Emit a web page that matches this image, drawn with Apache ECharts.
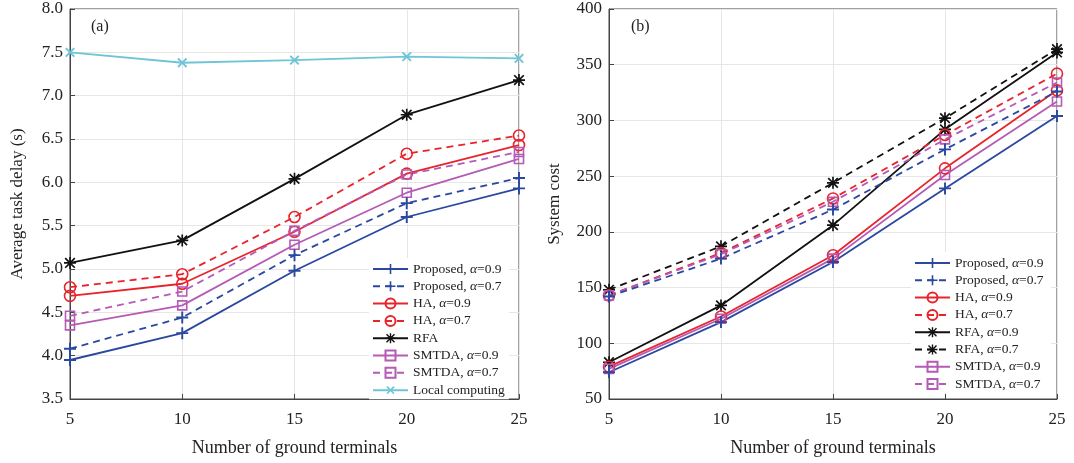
<!DOCTYPE html>
<html>
<head>
<meta charset="utf-8">
<title>Delay and cost</title>
<script src="https://cdn.jsdelivr.net/npm/echarts@6/dist/echarts.min.js"></script>
<style>
  html, body { margin: 0; padding: 0; background: #fff; }
  #main { width: 1074px; height: 463px; }
</style>
</head>
<body>
<div id="main"></div>
<script>
// x axis: number of ground terminals
var terminals = [5, 10, 15, 20, 25];

// (a) average task delay (s)
var delayProp9  = [3.95, 4.26, 4.98, 5.60, 5.93];
var delayProp7  = [4.08, 4.44, 5.16, 5.76, 6.05];
var delayHA9    = [4.69, 4.83, 5.43, 6.10, 6.43];
var delayHA7    = [4.79, 4.94, 5.60, 6.33, 6.54];
var delayRFA    = [5.07, 5.33, 6.04, 6.78, 7.18];
var delaySM9    = [4.35, 4.58, 5.28, 5.88, 6.27];
var delaySM7    = [4.46, 4.74, 5.44, 6.09, 6.35];
var delayLocal  = [7.50, 7.38, 7.41, 7.45, 7.43];

// (b) system cost
var costProp9 = [74, 119, 173, 239, 304];
var costProp7 = [142, 176, 220, 274, 326];
var costHA9   = [79, 124, 179, 257, 327];
var costHA7   = [143, 181, 230, 287, 342];
var costRFA9  = [83, 134, 206, 292, 361];
var costRFA7  = [148, 187, 244, 302, 364];
var costSM9   = [77, 122, 176, 251, 317];
var costSM7   = [143, 180, 227, 283, 334];

var BLUE = '#2b48a0', RED = '#e8242b', BLACK = '#111111', PURPLE = '#b55ab5', CYAN = '#6ec5d6';
var FONT = '"Liberation Serif", "Times New Roman", serif';

var PLUS = 'path://M4.2,0H5.8V4.2H10V5.8H5.8V10H4.2V5.8H0V4.2H4.2Z';
var STAR = 'path://M4.3,0H5.7V4.3H10V5.7H5.7V10H4.3V5.7H0V4.3H4.3Z' +
           'M1.5,0.5L5,4L8.5,0.5L9.5,1.5L6,5L9.5,8.5L8.5,9.5L5,6L1.5,9.5L0.5,8.5L4,5L0.5,1.5Z';

function line(name, data, color, dashed, mark, idx) {
  var s = {
    name: name, type: 'line', xAxisIndex: idx, yAxisIndex: idx,
    data: terminals.map(function (x, i) { return [x, data[i]]; }),
    color: color,
    lineStyle: { color: color, width: 1.8, type: dashed ? [7, 5] : 'solid' },
    symbolSize: 10,
    z: 3
  };
  if (mark === 'plus') {
    s.symbol = PLUS; s.symbolSize = 12;
    s.itemStyle = { color: color };
  } else if (mark === 'x') {
    s.symbol = PLUS; s.symbolSize = 12; s.symbolRotate = 45;
    s.itemStyle = { color: color };
  } else if (mark === 'star') {
    s.symbol = STAR; s.symbolSize = 12;
    s.itemStyle = { color: color };
  } else if (mark === 'circle') {
    s.symbol = 'circle'; s.symbolSize = 11;
    s.itemStyle = { color: 'rgba(255,255,255,0)', borderColor: color, borderWidth: 1.6 };
  } else {
    s.symbol = 'rect'; s.symbolSize = 9;
    s.itemStyle = { color: 'rgba(255,255,255,0)', borderColor: color, borderWidth: 1.6 };
  }
  return s;
}

function xAx(idx) {
  return {
    type: 'value', gridIndex: idx, min: 5, max: 25, interval: 5,
    name: 'Number of ground terminals', nameLocation: 'middle', nameGap: 40,
    nameTextStyle: { fontFamily: FONT, fontSize: 18, color: '#222' },
    axisLine: { onZero: false, lineStyle: { color: '#444' } },
    axisTick: { inside: true, length: 5, lineStyle: { color: '#444' } },
    axisLabel: { fontFamily: FONT, fontSize: 17, color: '#222', margin: 12 },
    splitLine: { show: true, lineStyle: { color: '#e6e6e6' } }
  };
}

function yAx(idx, min, max, step, name, dec) {
  return {
    type: 'value', gridIndex: idx, min: min, max: max, interval: step,
    name: name, nameLocation: 'middle', nameGap: idx === 0 ? 44 : 46,
    nameTextStyle: { fontFamily: FONT, fontSize: 17, color: '#222' },
    axisLine: { show: true, lineStyle: { color: '#444' } },
    axisTick: { show: true, inside: true, length: 5, lineStyle: { color: '#444' } },
    axisLabel: { fontFamily: FONT, fontSize: 17, color: '#222', margin: 7,
      formatter: function (v) { return v.toFixed(dec); } },
    splitLine: { show: true, lineStyle: { color: '#e6e6e6' } }
  };
}

function legend(names, left, top) {
  return {
    orient: 'vertical', left: left, top: top, data: names,
    itemWidth: 35, itemHeight: 12.5, itemGap: 3.3,
    backgroundColor: '#fff', padding: [4, 4, 2, 3],
    textStyle: {
      fontFamily: FONT, fontSize: 13.5, color: '#222',
      rich: { i: { fontFamily: FONT, fontSize: 13.5, fontStyle: 'italic', color: '#222' } }
    },
    formatter: function (n) { return n.replace('α', '{i|α}'); },
    selectedMode: false
  };
}

var chart = echarts.init(document.getElementById('main'), null, { renderer: 'canvas' });

var option = {
  animation: false,
  backgroundColor: '#fff',
  grid: [
    { left: 70, top: 9, width: 449, height: 390, show: true, borderColor: '#444', borderWidth: 1, backgroundColor: 'transparent' },
    { left: 609, top: 9, width: 448, height: 390, show: true, borderColor: '#444', borderWidth: 1, backgroundColor: 'transparent' }
  ],
  xAxis: [xAx(0), xAx(1)],
  yAxis: [
    yAx(0, 3.5, 8, 0.5, 'Average task delay (s)', 1),
    yAx(1, 50, 400, 50, 'System cost', 0)
  ],
  legend: [
    legend(['Proposed, α=0.9', 'Proposed, α=0.7', 'HA, α=0.9', 'HA, α=0.7', 'RFA',
            'SMTDA, α=0.9', 'SMTDA, α=0.7', 'Local computing'], 369, 258),
    legend(['Proposed, α=0.9 ', 'Proposed, α=0.7 ', 'HA, α=0.9 ', 'HA, α=0.7 ', 'RFA, α=0.9',
            'RFA, α=0.7', 'SMTDA, α=0.9 ', 'SMTDA, α=0.7 '], 911, 252)
  ],
  graphic: [
    { type: 'text', left: 91, top: 19, style: { text: '(a)', font: '16px ' + FONT, fill: '#222' } },
    { type: 'text', left: 631, top: 19, style: { text: '(b)', font: '16px ' + FONT, fill: '#222' } }
  ],
  series: [
    line('Local computing', delayLocal, CYAN, false, 'x', 0),
    line('RFA', delayRFA, BLACK, false, 'star', 0),
    line('HA, α=0.7', delayHA7, RED, true, 'circle', 0),
    line('HA, α=0.9', delayHA9, RED, false, 'circle', 0),
    line('SMTDA, α=0.7', delaySM7, PURPLE, true, 'rect', 0),
    line('SMTDA, α=0.9', delaySM9, PURPLE, false, 'rect', 0),
    line('Proposed, α=0.7', delayProp7, BLUE, true, 'plus', 0),
    line('Proposed, α=0.9', delayProp9, BLUE, false, 'plus', 0),

    line('RFA, α=0.7', costRFA7, BLACK, true, 'star', 1),
    line('RFA, α=0.9', costRFA9, BLACK, false, 'star', 1),
    line('HA, α=0.7 ', costHA7, RED, true, 'circle', 1),
    line('HA, α=0.9 ', costHA9, RED, false, 'circle', 1),
    line('SMTDA, α=0.7 ', costSM7, PURPLE, true, 'rect', 1),
    line('SMTDA, α=0.9 ', costSM9, PURPLE, false, 'rect', 1),
    line('Proposed, α=0.7 ', costProp7, BLUE, true, 'plus', 1),
    line('Proposed, α=0.9 ', costProp9, BLUE, false, 'plus', 1)
  ]
};

chart.setOption(option);
</script>
</body>
</html>
